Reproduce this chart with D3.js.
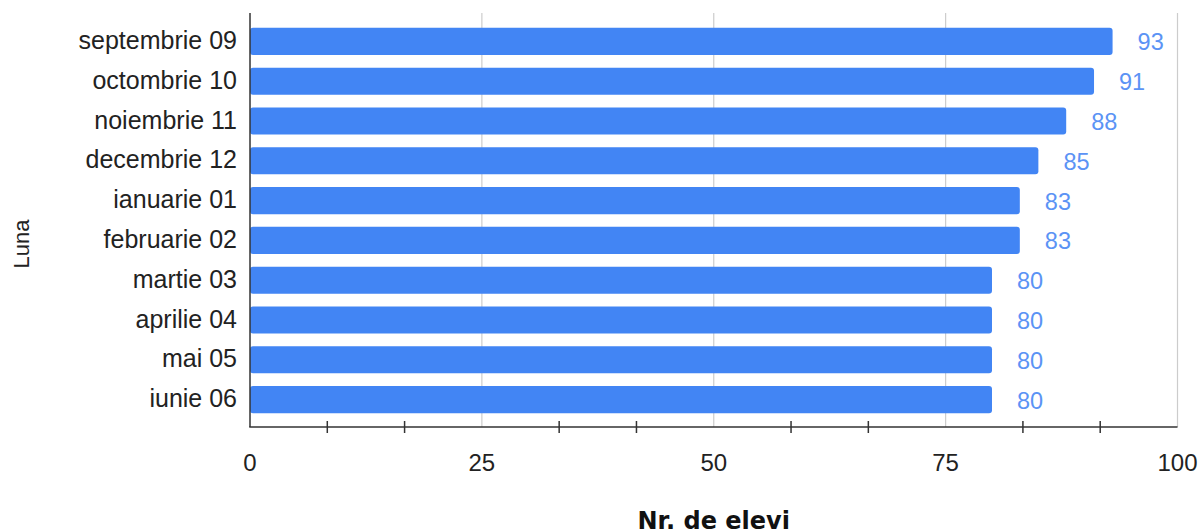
<!DOCTYPE html>
<html><head><meta charset="utf-8">
<script src="https://cdn.jsdelivr.net/npm/d3@7"></script>
<style>html,body{margin:0;padding:0;background:#fff;overflow:hidden}</style>
</head><body><svg id="c" width="1201" height="532"></svg>
<script>
const categories = ["septembrie 09","octombrie 10","noiembrie 11","decembrie 12","ianuarie 01","februarie 02","martie 03","aprilie 04","mai 05","iunie 06"];
const values = [93,91,88,85,83,83,80,80,80,80];
const majorTicks = [0,25,50,75,100];
const minorTicks = [25/3,50/3,100/3,125/3,175/3,200/3,250/3,275/3];
const xTitle = "Nr. de elevi";
const yTitle = "Luna";

const svg = d3.select("#c");
const x = d3.scaleLinear().domain([0,100]).range([250,1177.5]);
const y = d3.scaleBand().domain(categories).range([21.5,419.5]).paddingInner(0.32).paddingOuter(0.16);
const plotTop = 13, plotBottom = 427;
const font = "'Liberation Sans', Arial, sans-serif";

// gridlines
svg.append("g").selectAll("line").data(majorTicks.filter(d=>d>0)).join("line")
  .attr("x1",d=>x(d)).attr("x2",d=>x(d)).attr("y1",plotTop).attr("y2",plotBottom)
  .attr("stroke","#cccccc").attr("stroke-width",1.2);

// bars
svg.append("g").selectAll("rect").data(values).join("rect")
  .attr("x",x(0)).attr("y",(d,i)=>y(categories[i]))
  .attr("width",d=>x(d)-x(0)).attr("height",y.bandwidth())
  .attr("rx",3).attr("fill","#4285f4");

// value labels
svg.append("g").selectAll("text").data(values).join("text")
  .attr("x",d=>x(d)+25).attr("y",(d,i)=>y(categories[i])+y.bandwidth()/2+9)
  .attr("font-family",font).attr("font-size",23.5).attr("fill","#5b93f5")
  .text(d=>d);

// category labels
svg.append("g").selectAll("text").data(categories).join("text")
  .attr("x",237).attr("y",d=>y(d)+y.bandwidth()/2+7.5)
  .attr("text-anchor","end").attr("font-family",font).attr("font-size",25).attr("fill","#222")
  .text(d=>d);

// axes lines
svg.append("line").attr("x1",x(0)).attr("x2",x(0)).attr("y1",plotTop).attr("y2",plotBottom)
  .attr("stroke","#333").attr("stroke-width",1.5);
svg.append("line").attr("x1",x(0)-0.75).attr("x2",x(100)).attr("y1",plotBottom).attr("y2",plotBottom)
  .attr("stroke","#333").attr("stroke-width",1.5);

// minor ticks
svg.append("g").selectAll("line").data(minorTicks).join("line")
  .attr("x1",d=>x(d)).attr("x2",d=>x(d)).attr("y1",plotBottom-6).attr("y2",plotBottom+6)
  .attr("stroke","#333").attr("stroke-width",1.5);

// tick labels
svg.append("g").selectAll("text").data(majorTicks).join("text")
  .attr("x",d=>x(d)).attr("y",471)
  .attr("text-anchor","middle").attr("font-family",font).attr("font-size",24).attr("fill","#222")
  .text(d=>d);

// axis titles
svg.append("text").attr("x",(x(0)+x(100))/2).attr("y",529)
  .attr("text-anchor","middle").attr("font-family","'DejaVu Sans', Verdana, sans-serif")
  .attr("font-weight","bold").attr("font-size",24).attr("fill","#111").text(xTitle);
svg.append("text").attr("transform","translate(29,244) rotate(-90)")
  .attr("text-anchor","middle").attr("font-family",font).attr("font-size",22).attr("fill","#222")
  .text(yTitle);
</script></body></html>
